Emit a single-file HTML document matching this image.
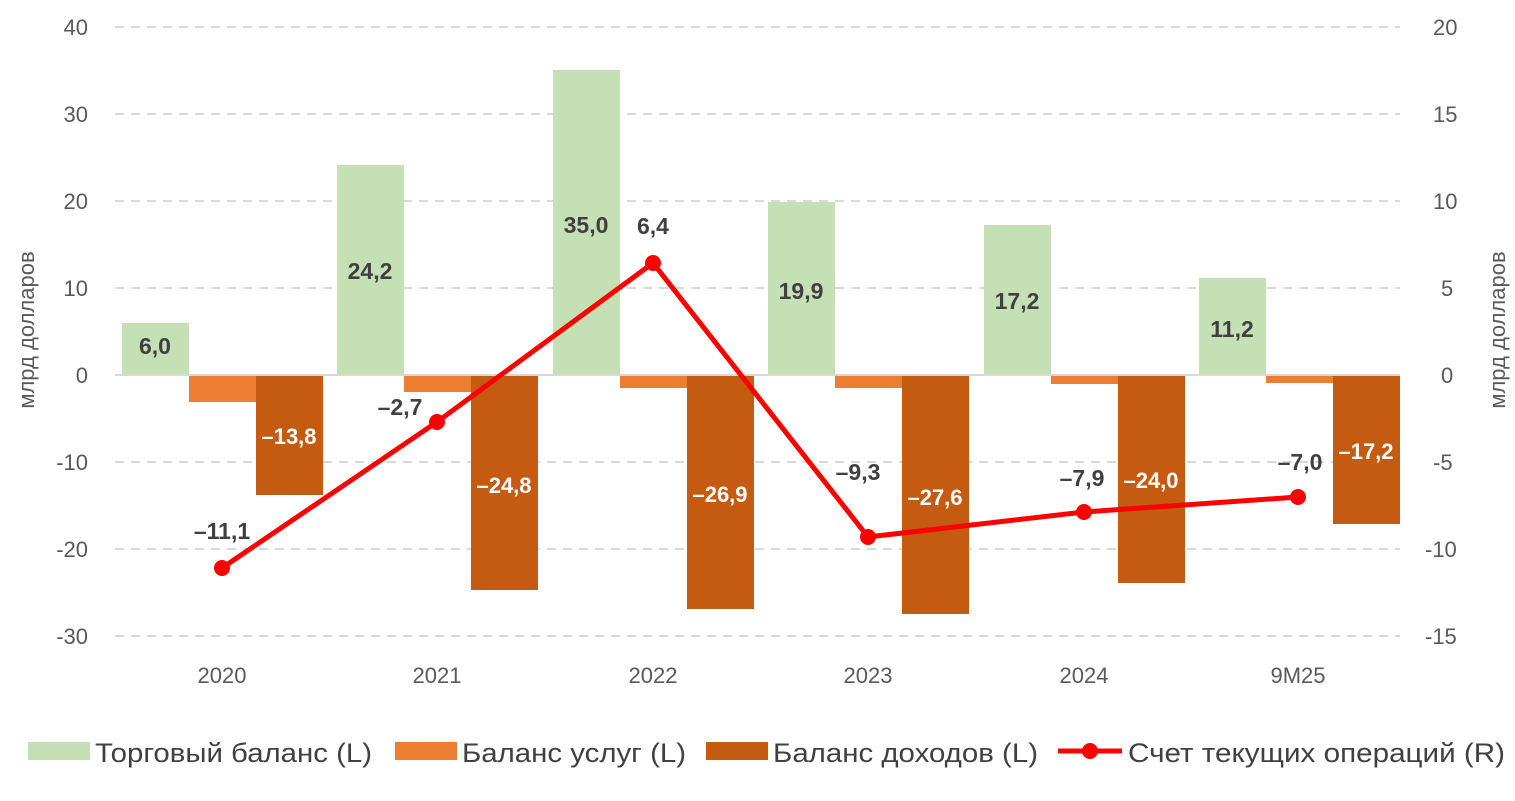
<!DOCTYPE html>
<html><head><meta charset="utf-8"><style>
body{margin:0;background:#fff}
svg text{font-family:"Liberation Sans Narrow","Liberation Sans",sans-serif}
</style></head><body>
<svg width="1515" height="796" xmlns="http://www.w3.org/2000/svg">
<g stroke="#d9d9d9" stroke-width="2" stroke-dasharray="9,7">
<line x1="115" x2="1400" y1="27" y2="27"/><line x1="115" x2="1400" y1="114" y2="114"/>
<line x1="115" x2="1400" y1="201" y2="201"/><line x1="115" x2="1400" y1="288" y2="288"/>
<line x1="115" x2="1400" y1="462" y2="462"/><line x1="115" x2="1400" y1="549" y2="549"/>
<line x1="115" x2="1400" y1="636" y2="636"/>
</g>
<g font-size="22" fill="#595959" text-anchor="end">
<text x="88" y="35">40</text><text x="88" y="122">30</text><text x="88" y="209">20</text>
<text x="88" y="296">10</text><text x="88" y="383">0</text><text x="88" y="470">-10</text>
<text x="88" y="557">-20</text><text x="88" y="644">-30</text>
</g>
<g font-size="22" fill="#595959" text-anchor="start">
<text x="1433" y="35">20</text><text x="1433" y="122">15</text><text x="1433" y="209">10</text>
<text x="1441" y="296">5</text><text x="1441" y="383">0</text><text x="1433" y="470">-5</text>
<text x="1425" y="557">-10</text><text x="1425" y="644">-15</text>
</g>
<text transform="translate(34,330) rotate(-90)" font-size="22" fill="#595959" text-anchor="middle">млрд долларов</text>
<text transform="translate(1505,330) rotate(-90)" font-size="22" fill="#595959" text-anchor="middle">млрд долларов</text>
<g fill="#c5e0b4">
<rect x="122" y="323" width="67" height="52"/><rect x="337" y="165" width="67" height="210"/>
<rect x="553" y="70" width="67" height="305"/><rect x="768" y="202" width="67" height="173"/>
<rect x="984" y="225" width="67" height="150"/><rect x="1199" y="278" width="67" height="97"/>
</g>
<g fill="#ed7d31">
<rect x="189" y="375" width="67" height="27"/><rect x="404" y="375" width="67" height="17"/>
<rect x="620" y="375" width="67" height="13"/><rect x="835" y="375" width="67" height="13"/>
<rect x="1051" y="375" width="67" height="9"/><rect x="1266" y="375" width="67" height="8"/>
</g>
<g fill="#c55a11">
<rect x="256" y="375" width="67" height="120"/><rect x="471" y="375" width="67" height="215"/>
<rect x="687" y="375" width="67" height="234"/><rect x="902" y="375" width="67" height="239"/>
<rect x="1118" y="375" width="67" height="208"/><rect x="1333" y="375" width="67" height="149"/>
</g>
<line x1="115" x2="1400" y1="375" y2="375" stroke="#d9d9d9" stroke-width="2"/>
<g font-size="23" font-weight="bold" fill="#404040" text-anchor="middle">
<text x="155" y="354">6,0</text><text x="370" y="279">24,2</text><text x="586" y="233">35,0</text>
<text x="801" y="299">19,9</text><text x="1017" y="309">17,2</text><text x="1232" y="337">11,2</text>
</g>
<g font-size="22" font-weight="bold" fill="#fff" text-anchor="middle">
<text x="289" y="444">–13,8</text><text x="504" y="493">–24,8</text><text x="720" y="502">–26,9</text>
<text x="935" y="505">–27,6</text><text x="1151" y="488">–24,0</text><text x="1366" y="459">–17,2</text>
</g>
<polyline points="222,568 437,422 653,263 868,537 1084,512 1298,497" fill="none" stroke="#ff0000" stroke-width="5"/>
<g fill="#ff0000">
<circle cx="222" cy="568" r="8"/><circle cx="437" cy="422" r="8"/><circle cx="653" cy="263" r="8"/>
<circle cx="868" cy="537" r="8"/><circle cx="1084" cy="512" r="8"/><circle cx="1298" cy="497" r="8"/>
</g>
<g font-size="23" font-weight="bold" fill="#404040" text-anchor="middle">
<text x="222" y="539">–11,1</text><text x="400" y="415">–2,7</text><text x="653" y="234">6,4</text>
<text x="858" y="480">–9,3</text><text x="1082" y="486">–7,9</text><text x="1300" y="470">–7,0</text>
</g>
<g font-size="22" fill="#595959" text-anchor="middle">
<text x="222" y="683">2020</text><text x="437" y="683">2021</text><text x="653" y="683">2022</text>
<text x="868" y="683">2023</text><text x="1084" y="683">2024</text><text x="1298" y="683">9M25</text>
</g>
<g font-size="27" fill="#404040">
<rect x="28" y="742" width="62" height="18" fill="#c5e0b4"/><text x="95" y="762" textLength="277" lengthAdjust="spacingAndGlyphs">Торговый баланс (L)</text>
<rect x="395" y="742" width="62" height="18" fill="#ed7d31"/><text x="462" y="762" textLength="224" lengthAdjust="spacingAndGlyphs">Баланс услуг (L)</text>
<rect x="706" y="742" width="62" height="18" fill="#c55a11"/><text x="773" y="762" textLength="265" lengthAdjust="spacingAndGlyphs">Баланс доходов (L)</text>
<line x1="1058" x2="1122" y1="751" y2="751" stroke="#ff0000" stroke-width="5"/><circle cx="1090" cy="751" r="8" fill="#ff0000"/>
<text x="1128" y="762" textLength="377" lengthAdjust="spacingAndGlyphs">Счет текущих операций (R)</text>
</g>
</svg>
</body></html>
